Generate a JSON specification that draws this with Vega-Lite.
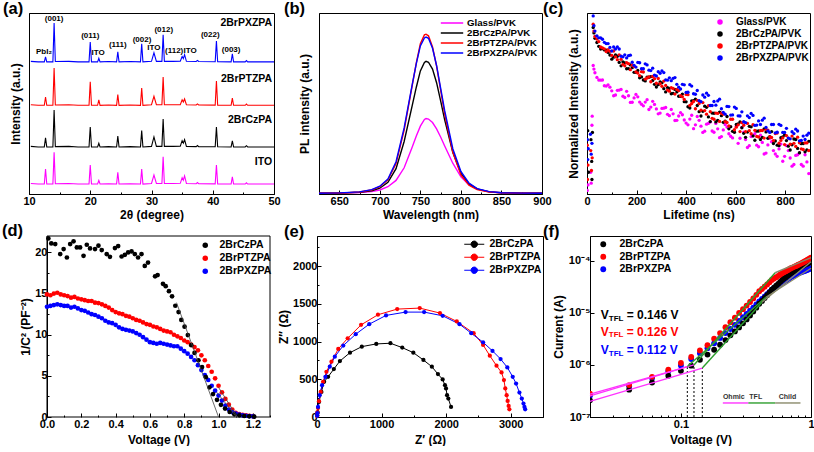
{
"$schema":"https://vega.github.io/schema/vega-lite/v6.json",
"padding":{"left":2,"top":0,"right":0,"bottom":0},
"background":"white",
"config":{
"font":"Liberation Sans",
"view":{"stroke":"black","strokeWidth":1},
"axis":{"grid":false,"domainColor":"black","domainWidth":1,"tickColor":"black","tickWidth":1,"tickSize":-4,"labelPadding":4,"labelColor":"black","labelFont":"Liberation Sans","labelFontWeight":"bold","labelFontSize":11,"titleFont":"Liberation Sans","titleFontWeight":"bold","titleFontSize":12,"titleColor":"black","titlePadding":1,"labelFlush":false,"labelOverlap":false},
"axisX":{"labelPadding":5},
"legend":{"labelFont":"Liberation Sans","labelFontWeight":"bold","labelFontSize":10.5,"labelColor":"black","padding":0,"orient":"none"},
"title":{"font":"Liberation Sans","fontSize":16.5,"fontWeight":"bold","color":"black","anchor":"start","frame":"group","baseline":"alphabetic","offset":-4}
},
"datasets":{
"a":[
{"s":"X","x":10.3,"y":73.3},{"s":"X","x":11.5,"y":73},{"s":"X","x":12.5,"y":73},{"s":"X","x":12.7,"y":75.7},{"s":"X","x":12.9,"y":73},{"s":"X","x":13.9,"y":73},{"s":"X","x":14.1,"y":94.5},{"s":"X","x":14.3,"y":73.2},{"s":"X","x":16.5,"y":73.3},{"s":"X","x":18,"y":73},{"s":"X","x":19.8,"y":73},{"s":"X","x":20,"y":84},{"s":"X","x":20.2,"y":73},{"s":"X","x":21.2,"y":73},{"s":"X","x":21.4,"y":75},{"s":"X","x":21.6,"y":73},{"s":"X","x":23,"y":73.2},{"s":"X","x":24.3,"y":73},{"s":"X","x":24.5,"y":78.5},{"s":"X","x":24.7,"y":73},{"s":"X","x":26.5,"y":73.2},{"s":"X","x":28.2,"y":73},{"s":"X","x":28.4,"y":83},{"s":"X","x":28.6,"y":73},{"s":"X","x":30,"y":73.3},{"s":"X","x":30.4,"y":78},{"s":"X","x":30.8,"y":73.3},{"s":"X","x":31.7,"y":73.3},{"s":"X","x":31.9,"y":88},{"s":"X","x":32.1,"y":73.3},{"s":"X","x":33.5,"y":73.3},{"s":"X","x":34.7,"y":73.4},{"s":"X","x":35,"y":76},{"s":"X","x":35.2,"y":74.8},{"s":"X","x":35.4,"y":77},{"s":"X","x":35.7,"y":73.3},{"s":"X","x":37.3,"y":73.2},{"s":"X","x":37.5,"y":73.8},{"s":"X","x":37.7,"y":73.2},{"s":"X","x":40.4,"y":73.1},{"s":"X","x":40.6,"y":84.5},{"s":"X","x":40.8,"y":73.1},{"s":"X","x":43,"y":73},{"s":"X","x":43.2,"y":77.5},{"s":"X","x":43.4,"y":73},{"s":"X","x":45.3,"y":73},{"s":"X","x":45.5,"y":73.7},{"s":"X","x":45.7,"y":73},{"s":"X","x":50,"y":73},
{"s":"T","x":10.3,"y":49.3},{"s":"T","x":11.5,"y":49},{"s":"T","x":12.5,"y":49},{"s":"T","x":12.7,"y":53.6},{"s":"T","x":12.9,"y":49},{"s":"T","x":13.9,"y":49},{"s":"T","x":14.1,"y":69.6},{"s":"T","x":14.3,"y":49.2},{"s":"T","x":16.5,"y":49.3},{"s":"T","x":18,"y":49},{"s":"T","x":19.8,"y":49},{"s":"T","x":20,"y":62},{"s":"T","x":20.2,"y":49},{"s":"T","x":21.2,"y":49},{"s":"T","x":21.4,"y":52},{"s":"T","x":21.6,"y":49},{"s":"T","x":23,"y":49.2},{"s":"T","x":24.3,"y":49},{"s":"T","x":24.5,"y":55},{"s":"T","x":24.7,"y":49},{"s":"T","x":26.5,"y":49.2},{"s":"T","x":28.2,"y":49},{"s":"T","x":28.4,"y":58.6},{"s":"T","x":28.6,"y":49},{"s":"T","x":30,"y":49.3},{"s":"T","x":30.4,"y":54},{"s":"T","x":30.8,"y":49.3},{"s":"T","x":31.7,"y":49.3},{"s":"T","x":31.9,"y":64.6},{"s":"T","x":32.1,"y":49.3},{"s":"T","x":33.5,"y":49.3},{"s":"T","x":34.7,"y":49.4},{"s":"T","x":35,"y":52},{"s":"T","x":35.2,"y":50.8},{"s":"T","x":35.4,"y":52.5},{"s":"T","x":35.7,"y":49.3},{"s":"T","x":37.3,"y":49.2},{"s":"T","x":37.5,"y":49.8},{"s":"T","x":37.7,"y":49.2},{"s":"T","x":40.4,"y":49.1},{"s":"T","x":40.6,"y":62.4},{"s":"T","x":40.8,"y":49.1},{"s":"T","x":43,"y":49},{"s":"T","x":43.2,"y":53},{"s":"T","x":43.4,"y":49},{"s":"T","x":45.3,"y":49},{"s":"T","x":45.5,"y":49.7},{"s":"T","x":45.7,"y":49},{"s":"T","x":50,"y":49},
{"s":"C","x":10.3,"y":26.3},{"s":"C","x":11.5,"y":26},{"s":"C","x":12.5,"y":26},{"s":"C","x":12.7,"y":31},{"s":"C","x":12.9,"y":26},{"s":"C","x":13.9,"y":26},{"s":"C","x":14.1,"y":46.4},{"s":"C","x":14.3,"y":26.2},{"s":"C","x":16.5,"y":26.3},{"s":"C","x":18,"y":26},{"s":"C","x":19.8,"y":26},{"s":"C","x":20,"y":37},{"s":"C","x":20.2,"y":26},{"s":"C","x":21.2,"y":26},{"s":"C","x":21.4,"y":28},{"s":"C","x":21.6,"y":26},{"s":"C","x":23,"y":26.2},{"s":"C","x":24.3,"y":26},{"s":"C","x":24.5,"y":32},{"s":"C","x":24.7,"y":26},{"s":"C","x":26.5,"y":26.2},{"s":"C","x":28.2,"y":26},{"s":"C","x":28.4,"y":35},{"s":"C","x":28.6,"y":26},{"s":"C","x":30,"y":26.3},{"s":"C","x":30.4,"y":31.5},{"s":"C","x":30.8,"y":26.3},{"s":"C","x":31.7,"y":26.3},{"s":"C","x":31.9,"y":41.4},{"s":"C","x":32.1,"y":26.3},{"s":"C","x":33.5,"y":26.3},{"s":"C","x":34.7,"y":26.4},{"s":"C","x":35,"y":29.5},{"s":"C","x":35.2,"y":28.1},{"s":"C","x":35.4,"y":30},{"s":"C","x":35.7,"y":26.3},{"s":"C","x":37.3,"y":26.2},{"s":"C","x":37.5,"y":26.8},{"s":"C","x":37.7,"y":26.2},{"s":"C","x":40.4,"y":26.1},{"s":"C","x":40.6,"y":37},{"s":"C","x":40.8,"y":26.1},{"s":"C","x":43,"y":26},{"s":"C","x":43.2,"y":29.3},{"s":"C","x":43.4,"y":26},{"s":"C","x":45.3,"y":26},{"s":"C","x":45.5,"y":26.7},{"s":"C","x":45.7,"y":26},{"s":"C","x":50,"y":26},
{"s":"I","x":10.3,"y":5.8},{"s":"I","x":11.5,"y":5.5},{"s":"I","x":12.5,"y":5.5},{"s":"I","x":12.7,"y":13.8},{"s":"I","x":12.9,"y":5.5},{"s":"I","x":13.9,"y":5.5},{"s":"I","x":14.1,"y":23},{"s":"I","x":14.3,"y":5.7},{"s":"I","x":16.5,"y":5.8},{"s":"I","x":18,"y":5.5},{"s":"I","x":19.8,"y":5.5},{"s":"I","x":20,"y":16},{"s":"I","x":20.2,"y":5.5},{"s":"I","x":21.2,"y":5.5},{"s":"I","x":21.4,"y":7.5},{"s":"I","x":21.6,"y":5.5},{"s":"I","x":23,"y":5.7},{"s":"I","x":24.3,"y":5.5},{"s":"I","x":24.5,"y":12},{"s":"I","x":24.7,"y":5.5},{"s":"I","x":26.5,"y":5.7},{"s":"I","x":28.2,"y":5.5},{"s":"I","x":28.4,"y":13.8},{"s":"I","x":28.6,"y":5.5},{"s":"I","x":30,"y":5.8},{"s":"I","x":30.4,"y":10.5},{"s":"I","x":30.8,"y":5.8},{"s":"I","x":31.7,"y":5.8},{"s":"I","x":31.9,"y":20.5},{"s":"I","x":32.1,"y":5.8},{"s":"I","x":33.5,"y":5.8},{"s":"I","x":34.7,"y":5.9},{"s":"I","x":35,"y":9},{"s":"I","x":35.2,"y":7.6},{"s":"I","x":35.4,"y":10},{"s":"I","x":35.7,"y":5.8},{"s":"I","x":37.3,"y":5.7},{"s":"I","x":37.5,"y":6.3},{"s":"I","x":37.7,"y":5.7},{"s":"I","x":40.4,"y":5.6},{"s":"I","x":40.6,"y":16},{"s":"I","x":40.8,"y":5.6},{"s":"I","x":43,"y":5.5},{"s":"I","x":43.2,"y":9.5},{"s":"I","x":43.4,"y":5.5},{"s":"I","x":45.3,"y":5.5},{"s":"I","x":45.5,"y":6.2},{"s":"I","x":45.7,"y":5.5},{"s":"I","x":50,"y":5.5}
],
"aPk":[
{"t":"PbI₂","x":12.45,"y":78.5},{"t":"(001)","x":14.1,"y":96.7},{"t":"(011)","x":20.0,"y":87.3},{"t":"ITO","x":21.3,"y":78},{"t":"(111)","x":24.5,"y":82.3},{"t":"(002)","x":28.45,"y":85},{"t":"ITO","x":30.4,"y":80.7},{"t":"(012)","x":32.0,"y":90.6},{"t":"(112)","x":33.7,"y":79},{"t":"ITO","x":36.3,"y":79},{"t":"(022)","x":39.6,"y":87.8},{"t":"(003)","x":43.0,"y":79.5}
],
"aSer":[
{"t":"2BrPXZPA","x":49.7,"y":94.5},{"t":"2BrPTZPA","x":49.7,"y":63.5},{"t":"2BrCzPA","x":49.7,"y":41},{"t":"ITO","x":49.7,"y":17.8}
],
"b":[
{"s":"G","x":625,"y":0.004},{"s":"G","x":650,"y":0.005},{"s":"G","x":675,"y":0.008},{"s":"G","x":690,"y":0.013},{"s":"G","x":700,"y":0.022},{"s":"G","x":710,"y":0.04},{"s":"G","x":720,"y":0.075},{"s":"G","x":730,"y":0.145},{"s":"G","x":740,"y":0.26},{"s":"G","x":745,"y":0.32},{"s":"G","x":750,"y":0.375},{"s":"G","x":755,"y":0.412},{"s":"G","x":757,"y":0.417},{"s":"G","x":760,"y":0.414},{"s":"G","x":765,"y":0.395},{"s":"G","x":770,"y":0.36},{"s":"G","x":775,"y":0.315},{"s":"G","x":780,"y":0.265},{"s":"G","x":790,"y":0.17},{"s":"G","x":800,"y":0.095},{"s":"G","x":810,"y":0.05},{"s":"G","x":820,"y":0.027},{"s":"G","x":835,"y":0.012},{"s":"G","x":850,"y":0.007},{"s":"G","x":875,"y":0.005},{"s":"G","x":900,"y":0.004},
{"s":"C","x":625,"y":0.004},{"s":"C","x":650,"y":0.005},{"s":"C","x":675,"y":0.01},{"s":"C","x":690,"y":0.018},{"s":"C","x":700,"y":0.032},{"s":"C","x":710,"y":0.065},{"s":"C","x":720,"y":0.14},{"s":"C","x":730,"y":0.29},{"s":"C","x":740,"y":0.49},{"s":"C","x":745,"y":0.59},{"s":"C","x":750,"y":0.68},{"s":"C","x":755,"y":0.727},{"s":"C","x":757,"y":0.733},{"s":"C","x":760,"y":0.728},{"s":"C","x":765,"y":0.69},{"s":"C","x":770,"y":0.615},{"s":"C","x":775,"y":0.515},{"s":"C","x":780,"y":0.41},{"s":"C","x":790,"y":0.23},{"s":"C","x":800,"y":0.115},{"s":"C","x":810,"y":0.056},{"s":"C","x":820,"y":0.028},{"s":"C","x":835,"y":0.012},{"s":"C","x":850,"y":0.007},{"s":"C","x":875,"y":0.005},{"s":"C","x":900,"y":0.004},
{"s":"T","x":625,"y":0.004},{"s":"T","x":650,"y":0.005},{"s":"T","x":675,"y":0.011},{"s":"T","x":690,"y":0.022},{"s":"T","x":700,"y":0.04},{"s":"T","x":710,"y":0.079},{"s":"T","x":720,"y":0.168},{"s":"T","x":730,"y":0.353},{"s":"T","x":740,"y":0.6},{"s":"T","x":745,"y":0.724},{"s":"T","x":750,"y":0.83},{"s":"T","x":755,"y":0.879},{"s":"T","x":757,"y":0.883},{"s":"T","x":760,"y":0.874},{"s":"T","x":765,"y":0.812},{"s":"T","x":770,"y":0.706},{"s":"T","x":775,"y":0.574},{"s":"T","x":780,"y":0.442},{"s":"T","x":790,"y":0.23},{"s":"T","x":800,"y":0.106},{"s":"T","x":810,"y":0.049},{"s":"T","x":820,"y":0.024},{"s":"T","x":835,"y":0.011},{"s":"T","x":850,"y":0.006},{"s":"T","x":875,"y":0.004},{"s":"T","x":900,"y":0.004},
{"s":"X","x":625,"y":0.004},{"s":"X","x":650,"y":0.006},{"s":"X","x":675,"y":0.012},{"s":"X","x":690,"y":0.024},{"s":"X","x":700,"y":0.043},{"s":"X","x":710,"y":0.083},{"s":"X","x":720,"y":0.178},{"s":"X","x":730,"y":0.365},{"s":"X","x":740,"y":0.605},{"s":"X","x":745,"y":0.72},{"s":"X","x":750,"y":0.818},{"s":"X","x":755,"y":0.862},{"s":"X","x":757,"y":0.867},{"s":"X","x":760,"y":0.86},{"s":"X","x":765,"y":0.805},{"s":"X","x":770,"y":0.71},{"s":"X","x":775,"y":0.585},{"s":"X","x":780,"y":0.46},{"s":"X","x":790,"y":0.25},{"s":"X","x":800,"y":0.125},{"s":"X","x":810,"y":0.06},{"s":"X","x":820,"y":0.03},{"s":"X","x":835,"y":0.013},{"s":"X","x":850,"y":0.007},{"s":"X","x":875,"y":0.005},{"s":"X","x":900,"y":0.004}
],
"c":[
{"s":"G","x":4,"y":0.05},{"s":"G","x":17,"y":0.06},{"s":"G","x":20,"y":0.38},{"s":"G","x":1,"y":0.02},{"s":"G","x":21,"y":0.43},{"s":"G","x":15,"y":0.12},
{"s":"G","x":25,"y":0.71},{"s":"G","x":28,"y":0.69},{"s":"G","x":32,"y":0.67},{"s":"G","x":40,"y":0.644},{"s":"G","x":55,"y":0.629},{"s":"G","x":70,"y":0.598},{"s":"G","x":85,"y":0.603},{"s":"G","x":100,"y":0.57},{"s":"G","x":115,"y":0.547},{"s":"G","x":130,"y":0.574},{"s":"G","x":145,"y":0.54},{"s":"G","x":160,"y":0.567},{"s":"G","x":175,"y":0.506},{"s":"G","x":190,"y":0.531},{"s":"G","x":205,"y":0.537},{"s":"G","x":220,"y":0.496},{"s":"G","x":235,"y":0.508},{"s":"G","x":250,"y":0.467},{"s":"G","x":265,"y":0.512},{"s":"G","x":280,"y":0.47},{"s":"G","x":295,"y":0.447},{"s":"G","x":310,"y":0.474},{"s":"G","x":325,"y":0.44},{"s":"G","x":340,"y":0.467},{"s":"G","x":355,"y":0.406},{"s":"G","x":370,"y":0.431},{"s":"G","x":385,"y":0.438},{"s":"G","x":400,"y":0.392},{"s":"G","x":415,"y":0.414},{"s":"G","x":430,"y":0.361},{"s":"G","x":445,"y":0.428},{"s":"G","x":460,"y":0.375},{"s":"G","x":475,"y":0.347},{"s":"G","x":490,"y":0.39},{"s":"G","x":505,"y":0.348},{"s":"G","x":520,"y":0.39},{"s":"G","x":535,"y":0.311},{"s":"G","x":550,"y":0.354},{"s":"G","x":565,"y":0.37},{"s":"G","x":580,"y":0.319},{"s":"G","x":595,"y":0.343},{"s":"G","x":610,"y":0.28},{"s":"G","x":625,"y":0.368},{"s":"G","x":640,"y":0.301},{"s":"G","x":655,"y":0.267},{"s":"G","x":670,"y":0.322},{"s":"G","x":685,"y":0.27},{"s":"G","x":700,"y":0.325},{"s":"G","x":715,"y":0.221},{"s":"G","x":730,"y":0.271},{"s":"G","x":745,"y":0.289},{"s":"G","x":760,"y":0.221},{"s":"G","x":775,"y":0.249},{"s":"G","x":790,"y":0.181},{"s":"G","x":805,"y":0.267},{"s":"G","x":820,"y":0.199},{"s":"G","x":835,"y":0.163},{"s":"G","x":850,"y":0.217},{"s":"G","x":865,"y":0.163},{"s":"G","x":880,"y":0.217},{"s":"G","x":895,"y":0.113},
{"s":"G","x":47.5,"y":0.63},{"s":"G","x":62.5,"y":0.63},{"s":"G","x":77.5,"y":0.596},{"s":"G","x":92.5,"y":0.59},{"s":"G","x":107.5,"y":0.543},{"s":"G","x":122.5,"y":0.573},{"s":"G","x":137.5,"y":0.578},{"s":"G","x":152.5,"y":0.533},{"s":"G","x":167.5,"y":0.543},{"s":"G","x":182.5,"y":0.507},{"s":"G","x":197.5,"y":0.55},{"s":"G","x":212.5,"y":0.508},{"s":"G","x":227.5,"y":0.487},{"s":"G","x":242.5,"y":0.521},{"s":"G","x":257.5,"y":0.48},{"s":"G","x":272.5,"y":0.495},{"s":"G","x":287.5,"y":0.443},{"s":"G","x":302.5,"y":0.473},{"s":"G","x":317.5,"y":0.478},{"s":"G","x":332.5,"y":0.433},{"s":"G","x":347.5,"y":0.443},{"s":"G","x":362.5,"y":0.407},{"s":"G","x":377.5,"y":0.45},{"s":"G","x":392.5,"y":0.409},{"s":"G","x":407.5,"y":0.382},{"s":"G","x":422.5,"y":0.435},{"s":"G","x":437.5,"y":0.382},{"s":"G","x":452.5,"y":0.407},{"s":"G","x":467.5,"y":0.34},{"s":"G","x":482.5,"y":0.386},{"s":"G","x":497.5,"y":0.398},{"s":"G","x":512.5,"y":0.341},{"s":"G","x":527.5,"y":0.36},{"s":"G","x":542.5,"y":0.317},{"s":"G","x":557.5,"y":0.384},{"s":"G","x":572.5,"y":0.333},{"s":"G","x":587.5,"y":0.31},{"s":"G","x":602.5,"y":0.374},{"s":"G","x":617.5,"y":0.308},{"s":"G","x":632.5,"y":0.341},{"s":"G","x":647.5,"y":0.257},{"s":"G","x":662.5,"y":0.317},{"s":"G","x":677.5,"y":0.333},{"s":"G","x":692.5,"y":0.261},{"s":"G","x":707.5,"y":0.285},{"s":"G","x":722.5,"y":0.226},{"s":"G","x":737.5,"y":0.308},{"s":"G","x":752.5,"y":0.24},{"s":"G","x":767.5,"y":0.208},{"s":"G","x":782.5,"y":0.276},{"s":"G","x":797.5,"y":0.208},{"s":"G","x":812.5,"y":0.24},{"s":"G","x":827.5,"y":0.154},{"s":"G","x":842.5,"y":0.213},{"s":"G","x":857.5,"y":0.227},{"s":"G","x":872.5,"y":0.154},{"s":"G","x":887.5,"y":0.177},
{"s":"C","x":3,"y":0.35},{"s":"C","x":16,"y":0.3},{"s":"C","x":19,"y":0.18},{"s":"C","x":6,"y":0.12},{"s":"C","x":20,"y":0.08},{"s":"C","x":22,"y":0.34},
{"s":"C","x":25,"y":0.92},{"s":"C","x":28,"y":0.89},{"s":"C","x":32,"y":0.86},{"s":"C","x":40,"y":0.837},{"s":"C","x":55,"y":0.801},{"s":"C","x":70,"y":0.796},{"s":"C","x":85,"y":0.782},{"s":"C","x":100,"y":0.745},{"s":"C","x":115,"y":0.768},{"s":"C","x":130,"y":0.727},{"s":"C","x":145,"y":0.73},{"s":"C","x":160,"y":0.692},{"s":"C","x":175,"y":0.713},{"s":"C","x":190,"y":0.672},{"s":"C","x":205,"y":0.683},{"s":"C","x":220,"y":0.647},{"s":"C","x":235,"y":0.625},{"s":"C","x":250,"y":0.645},{"s":"C","x":265,"y":0.627},{"s":"C","x":280,"y":0.591},{"s":"C","x":295,"y":0.619},{"s":"C","x":310,"y":0.582},{"s":"C","x":325,"y":0.588},{"s":"C","x":340,"y":0.554},{"s":"C","x":355,"y":0.578},{"s":"C","x":370,"y":0.54},{"s":"C","x":385,"y":0.552},{"s":"C","x":400,"y":0.509},{"s":"C","x":415,"y":0.475},{"s":"C","x":430,"y":0.516},{"s":"C","x":445,"y":0.489},{"s":"C","x":460,"y":0.431},{"s":"C","x":475,"y":0.485},{"s":"C","x":490,"y":0.426},{"s":"C","x":505,"y":0.447},{"s":"C","x":520,"y":0.398},{"s":"C","x":535,"y":0.452},{"s":"C","x":550,"y":0.396},{"s":"C","x":565,"y":0.428},{"s":"C","x":580,"y":0.372},{"s":"C","x":595,"y":0.341},{"s":"C","x":610,"y":0.387},{"s":"C","x":625,"y":0.366},{"s":"C","x":640,"y":0.313},{"s":"C","x":655,"y":0.374},{"s":"C","x":670,"y":0.321},{"s":"C","x":685,"y":0.347},{"s":"C","x":700,"y":0.301},{"s":"C","x":715,"y":0.36},{"s":"C","x":730,"y":0.308},{"s":"C","x":745,"y":0.345},{"s":"C","x":760,"y":0.293},{"s":"C","x":775,"y":0.267},{"s":"C","x":790,"y":0.315},{"s":"C","x":805,"y":0.295},{"s":"C","x":820,"y":0.243},{"s":"C","x":835,"y":0.304},{"s":"C","x":850,"y":0.252},{"s":"C","x":865,"y":0.278},{"s":"C","x":880,"y":0.233},{"s":"C","x":895,"y":0.291},
{"s":"C","x":47.5,"y":0.816},{"s":"C","x":62.5,"y":0.804},{"s":"C","x":77.5,"y":0.795},{"s":"C","x":92.5,"y":0.768},{"s":"C","x":107.5,"y":0.756},{"s":"C","x":122.5,"y":0.761},{"s":"C","x":137.5,"y":0.708},{"s":"C","x":152.5,"y":0.724},{"s":"C","x":167.5,"y":0.693},{"s":"C","x":182.5,"y":0.698},{"s":"C","x":197.5,"y":0.672},{"s":"C","x":212.5,"y":0.642},{"s":"C","x":227.5,"y":0.63},{"s":"C","x":242.5,"y":0.646},{"s":"C","x":257.5,"y":0.648},{"s":"C","x":272.5,"y":0.606},{"s":"C","x":287.5,"y":0.604},{"s":"C","x":302.5,"y":0.614},{"s":"C","x":317.5,"y":0.564},{"s":"C","x":332.5,"y":0.584},{"s":"C","x":347.5,"y":0.556},{"s":"C","x":362.5,"y":0.564},{"s":"C","x":377.5,"y":0.54},{"s":"C","x":392.5,"y":0.51},{"s":"C","x":407.5,"y":0.482},{"s":"C","x":422.5,"y":0.515},{"s":"C","x":437.5,"y":0.524},{"s":"C","x":452.5,"y":0.455},{"s":"C","x":467.5,"y":0.457},{"s":"C","x":482.5,"y":0.479},{"s":"C","x":497.5,"y":0.4},{"s":"C","x":512.5,"y":0.446},{"s":"C","x":527.5,"y":0.407},{"s":"C","x":542.5,"y":0.433},{"s":"C","x":557.5,"y":0.402},{"s":"C","x":572.5,"y":0.36},{"s":"C","x":587.5,"y":0.346},{"s":"C","x":602.5,"y":0.384},{"s":"C","x":617.5,"y":0.398},{"s":"C","x":632.5,"y":0.335},{"s":"C","x":647.5,"y":0.342},{"s":"C","x":662.5,"y":0.371},{"s":"C","x":677.5,"y":0.297},{"s":"C","x":692.5,"y":0.348},{"s":"C","x":707.5,"y":0.313},{"s":"C","x":722.5,"y":0.343},{"s":"C","x":737.5,"y":0.317},{"s":"C","x":752.5,"y":0.279},{"s":"C","x":767.5,"y":0.27},{"s":"C","x":782.5,"y":0.311},{"s":"C","x":797.5,"y":0.326},{"s":"C","x":812.5,"y":0.264},{"s":"C","x":827.5,"y":0.272},{"s":"C","x":842.5,"y":0.301},{"s":"C","x":857.5,"y":0.228},{"s":"C","x":872.5,"y":0.279},{"s":"C","x":887.5,"y":0.244},
{"s":"T","x":1,"y":0.27},{"s":"T","x":4,"y":0.16},{"s":"T","x":15,"y":0.24},{"s":"T","x":18,"y":0.13},{"s":"T","x":21,"y":0.2},{"s":"T","x":2,"y":0.08},
{"s":"T","x":25,"y":0.938},{"s":"T","x":28,"y":0.9},{"s":"T","x":32,"y":0.87},{"s":"T","x":40,"y":0.856},{"s":"T","x":55,"y":0.812},{"s":"T","x":70,"y":0.802},{"s":"T","x":85,"y":0.797},{"s":"T","x":100,"y":0.766},{"s":"T","x":115,"y":0.758},{"s":"T","x":130,"y":0.769},{"s":"T","x":145,"y":0.716},{"s":"T","x":160,"y":0.725},{"s":"T","x":175,"y":0.687},{"s":"T","x":190,"y":0.704},{"s":"T","x":205,"y":0.668},{"s":"T","x":220,"y":0.676},{"s":"T","x":235,"y":0.635},{"s":"T","x":250,"y":0.647},{"s":"T","x":265,"y":0.649},{"s":"T","x":280,"y":0.612},{"s":"T","x":295,"y":0.609},{"s":"T","x":310,"y":0.624},{"s":"T","x":325,"y":0.574},{"s":"T","x":340,"y":0.587},{"s":"T","x":355,"y":0.552},{"s":"T","x":370,"y":0.572},{"s":"T","x":385,"y":0.537},{"s":"T","x":400,"y":0.55},{"s":"T","x":415,"y":0.489},{"s":"T","x":430,"y":0.511},{"s":"T","x":445,"y":0.517},{"s":"T","x":460,"y":0.463},{"s":"T","x":475,"y":0.461},{"s":"T","x":490,"y":0.488},{"s":"T","x":505,"y":0.418},{"s":"T","x":520,"y":0.447},{"s":"T","x":535,"y":0.401},{"s":"T","x":550,"y":0.441},{"s":"T","x":565,"y":0.395},{"s":"T","x":580,"y":0.413},{"s":"T","x":595,"y":0.355},{"s":"T","x":610,"y":0.382},{"s":"T","x":625,"y":0.394},{"s":"T","x":640,"y":0.345},{"s":"T","x":655,"y":0.35},{"s":"T","x":670,"y":0.383},{"s":"T","x":685,"y":0.318},{"s":"T","x":700,"y":0.35},{"s":"T","x":715,"y":0.309},{"s":"T","x":730,"y":0.353},{"s":"T","x":745,"y":0.312},{"s":"T","x":760,"y":0.334},{"s":"T","x":775,"y":0.281},{"s":"T","x":790,"y":0.31},{"s":"T","x":805,"y":0.323},{"s":"T","x":820,"y":0.275},{"s":"T","x":835,"y":0.28},{"s":"T","x":850,"y":0.314},{"s":"T","x":865,"y":0.249},{"s":"T","x":880,"y":0.282},{"s":"T","x":895,"y":0.24},
{"s":"T","x":47.5,"y":0.842},{"s":"T","x":62.5,"y":0.807},{"s":"T","x":77.5,"y":0.787},{"s":"T","x":92.5,"y":0.788},{"s":"T","x":107.5,"y":0.79},{"s":"T","x":122.5,"y":0.742},{"s":"T","x":137.5,"y":0.744},{"s":"T","x":152.5,"y":0.708},{"s":"T","x":167.5,"y":0.72},{"s":"T","x":182.5,"y":0.712},{"s":"T","x":197.5,"y":0.675},{"s":"T","x":212.5,"y":0.654},{"s":"T","x":227.5,"y":0.674},{"s":"T","x":242.5,"y":0.641},{"s":"T","x":257.5,"y":0.62},{"s":"T","x":272.5,"y":0.637},{"s":"T","x":287.5,"y":0.638},{"s":"T","x":302.5,"y":0.595},{"s":"T","x":317.5,"y":0.6},{"s":"T","x":332.5,"y":0.568},{"s":"T","x":347.5,"y":0.583},{"s":"T","x":362.5,"y":0.578},{"s":"T","x":377.5,"y":0.543},{"s":"T","x":392.5,"y":0.522},{"s":"T","x":407.5,"y":0.549},{"s":"T","x":422.5,"y":0.5},{"s":"T","x":437.5,"y":0.471},{"s":"T","x":452.5,"y":0.5},{"s":"T","x":467.5,"y":0.505},{"s":"T","x":482.5,"y":0.441},{"s":"T","x":497.5,"y":0.455},{"s":"T","x":512.5,"y":0.413},{"s":"T","x":527.5,"y":0.445},{"s":"T","x":542.5,"y":0.446},{"s":"T","x":557.5,"y":0.4},{"s":"T","x":572.5,"y":0.376},{"s":"T","x":587.5,"y":0.413},{"s":"T","x":602.5,"y":0.369},{"s":"T","x":617.5,"y":0.345},{"s":"T","x":632.5,"y":0.38},{"s":"T","x":647.5,"y":0.39},{"s":"T","x":662.5,"y":0.333},{"s":"T","x":677.5,"y":0.352},{"s":"T","x":692.5,"y":0.315},{"s":"T","x":707.5,"y":0.351},{"s":"T","x":722.5,"y":0.356},{"s":"T","x":737.5,"y":0.315},{"s":"T","x":752.5,"y":0.295},{"s":"T","x":767.5,"y":0.337},{"s":"T","x":782.5,"y":0.296},{"s":"T","x":797.5,"y":0.273},{"s":"T","x":812.5,"y":0.309},{"s":"T","x":827.5,"y":0.32},{"s":"T","x":842.5,"y":0.263},{"s":"T","x":857.5,"y":0.283},{"s":"T","x":872.5,"y":0.246},{"s":"T","x":887.5,"y":0.282},
{"s":"X","x":2,"y":0.3},{"s":"X","x":5,"y":0.25},{"s":"X","x":14,"y":0.33},{"s":"X","x":17,"y":0.22},{"s":"X","x":20,"y":0.28},{"s":"X","x":3,"y":0.19},
{"s":"X","x":25,"y":0.984},{"s":"X","x":28,"y":0.93},{"s":"X","x":32,"y":0.9},{"s":"X","x":40,"y":0.874},{"s":"X","x":55,"y":0.863},{"s":"X","x":70,"y":0.838},{"s":"X","x":85,"y":0.831},{"s":"X","x":100,"y":0.79},{"s":"X","x":115,"y":0.801},{"s":"X","x":130,"y":0.801},{"s":"X","x":145,"y":0.758},{"s":"X","x":160,"y":0.752},{"s":"X","x":175,"y":0.767},{"s":"X","x":190,"y":0.711},{"s":"X","x":205,"y":0.727},{"s":"X","x":220,"y":0.692},{"s":"X","x":235,"y":0.719},{"s":"X","x":250,"y":0.684},{"s":"X","x":265,"y":0.695},{"s":"X","x":280,"y":0.652},{"s":"X","x":295,"y":0.667},{"s":"X","x":310,"y":0.671},{"s":"X","x":325,"y":0.629},{"s":"X","x":340,"y":0.626},{"s":"X","x":355,"y":0.643},{"s":"X","x":370,"y":0.59},{"s":"X","x":385,"y":0.606},{"s":"X","x":400,"y":0.561},{"s":"X","x":415,"y":0.604},{"s":"X","x":430,"y":0.554},{"s":"X","x":445,"y":0.572},{"s":"X","x":460,"y":0.51},{"s":"X","x":475,"y":0.535},{"s":"X","x":490,"y":0.545},{"s":"X","x":505,"y":0.489},{"s":"X","x":520,"y":0.491},{"s":"X","x":535,"y":0.524},{"s":"X","x":550,"y":0.451},{"s":"X","x":565,"y":0.484},{"s":"X","x":580,"y":0.436},{"s":"X","x":595,"y":0.48},{"s":"X","x":610,"y":0.432},{"s":"X","x":625,"y":0.454},{"s":"X","x":640,"y":0.394},{"s":"X","x":655,"y":0.422},{"s":"X","x":670,"y":0.434},{"s":"X","x":685,"y":0.381},{"s":"X","x":700,"y":0.384},{"s":"X","x":715,"y":0.419},{"s":"X","x":730,"y":0.349},{"s":"X","x":745,"y":0.384},{"s":"X","x":760,"y":0.338},{"s":"X","x":775,"y":0.385},{"s":"X","x":790,"y":0.34},{"s":"X","x":805,"y":0.363},{"s":"X","x":820,"y":0.305},{"s":"X","x":835,"y":0.334},{"s":"X","x":850,"y":0.348},{"s":"X","x":865,"y":0.296},{"s":"X","x":880,"y":0.301},{"s":"X","x":895,"y":0.336},
{"s":"X","x":47.5,"y":0.863},{"s":"X","x":62.5,"y":0.855},{"s":"X","x":77.5,"y":0.831},{"s":"X","x":92.5,"y":0.81},{"s":"X","x":107.5,"y":0.812},{"s":"X","x":122.5,"y":0.812},{"s":"X","x":137.5,"y":0.761},{"s":"X","x":152.5,"y":0.769},{"s":"X","x":167.5,"y":0.764},{"s":"X","x":182.5,"y":0.728},{"s":"X","x":197.5,"y":0.701},{"s":"X","x":212.5,"y":0.725},{"s":"X","x":227.5,"y":0.692},{"s":"X","x":242.5,"y":0.713},{"s":"X","x":257.5,"y":0.682},{"s":"X","x":272.5,"y":0.657},{"s":"X","x":287.5,"y":0.676},{"s":"X","x":302.5,"y":0.68},{"s":"X","x":317.5,"y":0.631},{"s":"X","x":332.5,"y":0.642},{"s":"X","x":347.5,"y":0.639},{"s":"X","x":362.5,"y":0.606},{"s":"X","x":377.5,"y":0.58},{"s":"X","x":392.5,"y":0.603},{"s":"X","x":407.5,"y":0.562},{"s":"X","x":422.5,"y":0.596},{"s":"X","x":437.5,"y":0.551},{"s":"X","x":452.5,"y":0.516},{"s":"X","x":467.5,"y":0.547},{"s":"X","x":482.5,"y":0.557},{"s":"X","x":497.5,"y":0.489},{"s":"X","x":512.5,"y":0.511},{"s":"X","x":527.5,"y":0.514},{"s":"X","x":542.5,"y":0.471},{"s":"X","x":557.5,"y":0.441},{"s":"X","x":572.5,"y":0.483},{"s":"X","x":587.5,"y":0.437},{"s":"X","x":602.5,"y":0.473},{"s":"X","x":617.5,"y":0.431},{"s":"X","x":632.5,"y":0.399},{"s":"X","x":647.5,"y":0.432},{"s":"X","x":662.5,"y":0.445},{"s":"X","x":677.5,"y":0.379},{"s":"X","x":692.5,"y":0.404},{"s":"X","x":707.5,"y":0.408},{"s":"X","x":722.5,"y":0.368},{"s":"X","x":737.5,"y":0.34},{"s":"X","x":752.5,"y":0.384},{"s":"X","x":767.5,"y":0.341},{"s":"X","x":782.5,"y":0.379},{"s":"X","x":797.5,"y":0.34},{"s":"X","x":812.5,"y":0.309},{"s":"X","x":827.5,"y":0.344},{"s":"X","x":842.5,"y":0.358},{"s":"X","x":857.5,"y":0.294},{"s":"X","x":872.5,"y":0.32},{"s":"X","x":887.5,"y":0.325}
],
"d":[
{"s":"T","x":0,"y":14.9},{"s":"T","x":0.02,"y":14.8},{"s":"T","x":0.04,"y":15},{"s":"T","x":0.06,"y":15.1},{"s":"T","x":0.08,"y":14.9},{"s":"T","x":0.1,"y":14.8},{"s":"T","x":0.12,"y":14.7},{"s":"T","x":0.14,"y":14.5},{"s":"T","x":0.16,"y":14.6},{"s":"T","x":0.18,"y":14.4},{"s":"T","x":0.2,"y":14.3},{"s":"T","x":0.22,"y":14.2},{"s":"T","x":0.24,"y":14.1},{"s":"T","x":0.26,"y":14.1},{"s":"T","x":0.28,"y":13.9},{"s":"T","x":0.3,"y":13.85},{"s":"T","x":0.32,"y":13.7},{"s":"T","x":0.34,"y":13.5},{"s":"T","x":0.36,"y":13.3},{"s":"T","x":0.38,"y":13},{"s":"T","x":0.4,"y":12.75},{"s":"T","x":0.42,"y":12.6},{"s":"T","x":0.44,"y":12.5},{"s":"T","x":0.46,"y":12.3},{"s":"T","x":0.48,"y":12.2},{"s":"T","x":0.5,"y":12},{"s":"T","x":0.52,"y":11.8},{"s":"T","x":0.54,"y":11.7},{"s":"T","x":0.56,"y":11.5},{"s":"T","x":0.58,"y":11.3},{"s":"T","x":0.6,"y":11.2},{"s":"T","x":0.62,"y":11},{"s":"T","x":0.64,"y":10.9},{"s":"T","x":0.66,"y":10.7},{"s":"T","x":0.68,"y":10.5},{"s":"T","x":0.7,"y":10.4},{"s":"T","x":0.72,"y":10.3},{"s":"T","x":0.74,"y":10},{"s":"T","x":0.76,"y":9.8},{"s":"T","x":0.78,"y":9.6},{"s":"T","x":0.8,"y":9.3},{"s":"T","x":0.82,"y":9.1},{"s":"T","x":0.84,"y":8.8},{"s":"T","x":0.86,"y":8.5},{"s":"T","x":0.88,"y":8.1},{"s":"T","x":0.9,"y":7.5},{"s":"T","x":0.92,"y":6.9},{"s":"T","x":0.94,"y":6.2},{"s":"T","x":0.96,"y":5.5},{"s":"T","x":0.98,"y":4.7},{"s":"T","x":1,"y":3.8},{"s":"T","x":1.02,"y":3},{"s":"T","x":1.04,"y":2.2},{"s":"T","x":1.06,"y":1.5},{"s":"T","x":1.08,"y":0.9},{"s":"T","x":1.1,"y":0.5},{"s":"T","x":1.12,"y":0.35},{"s":"T","x":1.14,"y":0.25},{"s":"T","x":1.16,"y":0.2},{"s":"T","x":1.18,"y":0.15},{"s":"T","x":1.2,"y":0.1},
{"s":"X","x":0,"y":13.4},{"s":"X","x":0.02,"y":13.5},{"s":"X","x":0.04,"y":13.6},{"s":"X","x":0.06,"y":13.7},{"s":"X","x":0.08,"y":13.6},{"s":"X","x":0.1,"y":13.5},{"s":"X","x":0.12,"y":13.5},{"s":"X","x":0.14,"y":13.3},{"s":"X","x":0.16,"y":13.4},{"s":"X","x":0.18,"y":13.2},{"s":"X","x":0.2,"y":13},{"s":"X","x":0.22,"y":12.9},{"s":"X","x":0.24,"y":12.7},{"s":"X","x":0.26,"y":12.5},{"s":"X","x":0.28,"y":12.4},{"s":"X","x":0.3,"y":12.2},{"s":"X","x":0.32,"y":12},{"s":"X","x":0.34,"y":11.7},{"s":"X","x":0.36,"y":11.5},{"s":"X","x":0.38,"y":11.4},{"s":"X","x":0.4,"y":11.2},{"s":"X","x":0.42,"y":10.9},{"s":"X","x":0.44,"y":10.7},{"s":"X","x":0.46,"y":10.6},{"s":"X","x":0.48,"y":10.5},{"s":"X","x":0.5,"y":10.4},{"s":"X","x":0.52,"y":10.2},{"s":"X","x":0.54,"y":10},{"s":"X","x":0.56,"y":9.7},{"s":"X","x":0.58,"y":9.4},{"s":"X","x":0.6,"y":9.1},{"s":"X","x":0.62,"y":9},{"s":"X","x":0.64,"y":8.9},{"s":"X","x":0.66,"y":9},{"s":"X","x":0.68,"y":8.9},{"s":"X","x":0.7,"y":8.8},{"s":"X","x":0.72,"y":8.7},{"s":"X","x":0.74,"y":8.6},{"s":"X","x":0.76,"y":8.6},{"s":"X","x":0.78,"y":8.3},{"s":"X","x":0.8,"y":8},{"s":"X","x":0.82,"y":7.7},{"s":"X","x":0.84,"y":7.3},{"s":"X","x":0.86,"y":6.9},{"s":"X","x":0.88,"y":6.3},{"s":"X","x":0.9,"y":5.7},{"s":"X","x":0.92,"y":5.1},{"s":"X","x":0.94,"y":4.5},{"s":"X","x":0.96,"y":3.8},{"s":"X","x":0.98,"y":3.2},{"s":"X","x":1,"y":2.6},{"s":"X","x":1.02,"y":2},{"s":"X","x":1.04,"y":1.4},{"s":"X","x":1.06,"y":0.9},{"s":"X","x":1.08,"y":0.6},{"s":"X","x":1.1,"y":0.4},{"s":"X","x":1.12,"y":0.3},{"s":"X","x":1.14,"y":0.2},{"s":"X","x":1.16,"y":0.15},{"s":"X","x":1.18,"y":0.1},{"s":"X","x":1.2,"y":0.08},
{"s":"C","x":0.008,"y":21.7},{"s":"C","x":0.025,"y":21.1},{"s":"C","x":0.048,"y":21.02},{"s":"C","x":0.077,"y":19.8},{"s":"C","x":0.097,"y":20.41},{"s":"C","x":0.116,"y":19.39},{"s":"C","x":0.135,"y":21.02},{"s":"C","x":0.155,"y":21.35},{"s":"C","x":0.174,"y":20.61},{"s":"C","x":0.193,"y":20.61},{"s":"C","x":0.213,"y":19.59},{"s":"C","x":0.232,"y":20.94},{"s":"C","x":0.251,"y":20.49},{"s":"C","x":0.28,"y":20.41},{"s":"C","x":0.3,"y":20.82},{"s":"C","x":0.319,"y":20.29},{"s":"C","x":0.348,"y":19.8},{"s":"C","x":0.367,"y":19.47},{"s":"C","x":0.396,"y":20.53},{"s":"C","x":0.415,"y":20.78},{"s":"C","x":0.435,"y":19.51},{"s":"C","x":0.454,"y":19.71},{"s":"C","x":0.473,"y":20},{"s":"C","x":0.493,"y":20.12},{"s":"C","x":0.512,"y":19.8},{"s":"C","x":0.531,"y":19.39},{"s":"C","x":0.551,"y":19.8},{"s":"C","x":0.57,"y":18.36},{"s":"C","x":0.589,"y":18.77},{"s":"C","x":0.63,"y":17.1},{"s":"C","x":0.645,"y":17.25},{"s":"C","x":0.676,"y":16.19},{"s":"C","x":0.692,"y":15.9},{"s":"C","x":0.711,"y":15.29},{"s":"C","x":0.729,"y":14.67},{"s":"C","x":0.748,"y":13.52},{"s":"C","x":0.767,"y":12.75},{"s":"C","x":0.783,"y":11.8},{"s":"C","x":0.802,"y":10.98},{"s":"C","x":0.821,"y":9.96},{"s":"C","x":0.841,"y":8.73},{"s":"C","x":0.86,"y":7.79},{"s":"C","x":0.883,"y":6.89},{"s":"C","x":0.904,"y":6.07},{"s":"C","x":0.926,"y":4.84},{"s":"C","x":0.947,"y":3.61},{"s":"C","x":0.968,"y":2.79},{"s":"C","x":0.991,"y":2.09},{"s":"C","x":1.014,"y":1.48},{"s":"C","x":1.038,"y":1.02},{"s":"C","x":1.065,"y":0.61},{"s":"C","x":1.092,"y":0.33},{"s":"C","x":1.121,"y":0.2},{"s":"C","x":1.15,"y":0.12},{"s":"C","x":1.179,"y":0.08},{"s":"C","x":1.208,"y":0.04}
],
"dFit":[
{"g":"c","x":0.755,"y":13.9},{"g":"c","x":1.0,"y":0},
{"g":"t","x":1.0,"y":3.6},{"g":"t","x":1.11,"y":0},
{"g":"p","x":0.99,"y":3.0},{"g":"p","x":1.105,"y":0}
],
"dBox":[{"x":0,"x2":1.3,"y":0,"y2":22}],
"e":[
{"s":"C","x":5,"y":20},{"s":"C","x":10,"y":60},{"s":"C","x":31,"y":200},{"s":"C","x":68,"y":333},{"s":"C","x":110,"y":467},{"s":"C","x":172,"y":533},{"s":"C","x":261,"y":636},{"s":"C","x":355,"y":742},{"s":"C","x":511,"y":853},{"s":"C","x":694,"y":933},{"s":"C","x":918,"y":969},{"s":"C","x":1137,"y":978},{"s":"C","x":1320,"y":920},{"s":"C","x":1492,"y":853},{"s":"C","x":1648,"y":756},{"s":"C","x":1779,"y":667},{"s":"C","x":1873,"y":569},{"s":"C","x":1946,"y":498},{"s":"C","x":1982,"y":422},{"s":"C","x":1998,"y":378},{"s":"C","x":2014,"y":289},{"s":"C","x":2034,"y":244},{"s":"C","x":2076,"y":133},
{"s":"T","x":2,"y":15},{"s":"T","x":5,"y":60},{"s":"T","x":16,"y":120},{"s":"T","x":31,"y":209},{"s":"T","x":57,"y":333},{"s":"T","x":94,"y":467},{"s":"T","x":146,"y":600},{"s":"T","x":224,"y":733},{"s":"T","x":329,"y":902},{"s":"T","x":475,"y":1044},{"s":"T","x":683,"y":1222},{"s":"T","x":944,"y":1356},{"s":"T","x":1242,"y":1431},{"s":"T","x":1591,"y":1444},{"s":"T","x":1904,"y":1378},{"s":"T","x":2165,"y":1267},{"s":"T","x":2426,"y":1111},{"s":"T","x":2572,"y":956},{"s":"T","x":2676,"y":813},{"s":"T","x":2780,"y":680},{"s":"T","x":2858,"y":591},{"s":"T","x":2895,"y":489},{"s":"T","x":2916,"y":378},{"s":"T","x":2937,"y":289},{"s":"T","x":2952,"y":213},{"s":"T","x":2968,"y":147},{"s":"T","x":2979,"y":102},
{"s":"X","x":2,"y":15},{"s":"X","x":6,"y":50},{"s":"X","x":16,"y":133},{"s":"X","x":42,"y":289},{"s":"X","x":78,"y":422},{"s":"X","x":130,"y":533},{"s":"X","x":198,"y":667},{"s":"X","x":276,"y":800},{"s":"X","x":407,"y":947},{"s":"X","x":600,"y":1098},{"s":"X","x":809,"y":1231},{"s":"X","x":1069,"y":1347},{"s":"X","x":1372,"y":1391},{"s":"X","x":1659,"y":1391},{"s":"X","x":1946,"y":1342},{"s":"X","x":2207,"y":1231},{"s":"X","x":2389,"y":1111},{"s":"X","x":2572,"y":991},{"s":"X","x":2718,"y":876},{"s":"X","x":2843,"y":769},{"s":"X","x":2947,"y":658},{"s":"X","x":3031,"y":533},{"s":"X","x":3083,"y":444},{"s":"X","x":3135,"y":324},{"s":"X","x":3172,"y":244},{"s":"X","x":3198,"y":178},{"s":"X","x":3213,"y":133},{"s":"X","x":3224,"y":102}
],
"f":[
{"s":"X","x":0.02,"y":2.6e-7},{"s":"X","x":0.04,"y":3.9e-7},{"s":"X","x":0.06,"y":5.6e-7},{"s":"X","x":0.08,"y":7.6e-7},{"s":"X","x":0.1,"y":9.8e-7},{"s":"X","x":0.12,"y":1.3e-6},{"s":"X","x":0.14,"y":1.68e-6},{"s":"X","x":0.16,"y":2.1e-6},{"s":"X","x":0.18,"y":2.6e-6},{"s":"X","x":0.2,"y":3.3e-6},{"s":"X","x":0.22,"y":4.1e-6},{"s":"X","x":0.24,"y":4.9e-6},{"s":"X","x":0.26,"y":5.9e-6},{"s":"X","x":0.28,"y":7.0e-6},{"s":"X","x":0.3,"y":8.3e-6},{"s":"X","x":0.32,"y":9.55e-6},{"s":"X","x":0.34,"y":1.1e-5},{"s":"X","x":0.36,"y":1.26e-5},{"s":"X","x":0.38,"y":1.45e-5},{"s":"X","x":0.4,"y":1.67e-5},{"s":"X","x":0.42,"y":1.85e-5},{"s":"X","x":0.44,"y":2.05e-5},{"s":"X","x":0.46,"y":2.28e-5},{"s":"X","x":0.48,"y":2.53e-5},{"s":"X","x":0.5,"y":2.8e-5},{"s":"X","x":0.52,"y":2.98e-5},{"s":"X","x":0.54,"y":3.17e-5},{"s":"X","x":0.56,"y":3.36e-5},{"s":"X","x":0.58,"y":3.58e-5},{"s":"X","x":0.6,"y":3.8e-5},{"s":"X","x":0.62,"y":4.0e-5},{"s":"X","x":0.64,"y":4.21e-5},{"s":"X","x":0.66,"y":4.42e-5},{"s":"X","x":0.68,"y":4.65e-5},{"s":"X","x":0.7,"y":4.9e-5},{"s":"X","x":0.72,"y":5.07e-5},{"s":"X","x":0.74,"y":5.24e-5},{"s":"X","x":0.76,"y":5.42e-5},{"s":"X","x":0.78,"y":5.61e-5},{"s":"X","x":0.8,"y":5.8e-5},{"s":"X","x":0.82,"y":5.93e-5},{"s":"X","x":0.84,"y":6.06e-5},{"s":"X","x":0.86,"y":6.19e-5},{"s":"X","x":0.88,"y":6.32e-5},{"s":"X","x":0.9,"y":6.46e-5},{"s":"X","x":0.92,"y":6.6e-5},{"s":"X","x":0.94,"y":6.75e-5},{"s":"X","x":0.96,"y":6.89e-5},{"s":"X","x":0.98,"y":7.04e-5},{"s":"X","x":1,"y":7.2e-5},
{"s":"C","x":0.02,"y":2.09e-7},{"s":"C","x":0.04,"y":3.35e-7},{"s":"C","x":0.06,"y":4.6e-7},{"s":"C","x":0.08,"y":6.2e-7},{"s":"C","x":0.1,"y":7.7e-7},{"s":"C","x":0.12,"y":9.7e-7},{"s":"C","x":0.14,"y":1.26e-6},{"s":"C","x":0.16,"y":1.58e-6},{"s":"C","x":0.18,"y":1.96e-6},{"s":"C","x":0.2,"y":2.44e-6},{"s":"C","x":0.22,"y":3.0e-6},{"s":"C","x":0.24,"y":3.7e-6},{"s":"C","x":0.26,"y":4.4e-6},{"s":"C","x":0.28,"y":5.25e-6},{"s":"C","x":0.3,"y":6.3e-6},{"s":"C","x":0.32,"y":7.5e-6},{"s":"C","x":0.34,"y":8.9e-6},{"s":"C","x":0.36,"y":1.06e-5},{"s":"C","x":0.38,"y":1.26e-5},{"s":"C","x":0.4,"y":1.5e-5},{"s":"C","x":0.42,"y":1.7e-5},{"s":"C","x":0.44,"y":1.93e-5},{"s":"C","x":0.46,"y":2.18e-5},{"s":"C","x":0.48,"y":2.47e-5},{"s":"C","x":0.5,"y":2.8e-5},{"s":"C","x":0.52,"y":3.05e-5},{"s":"C","x":0.54,"y":3.33e-5},{"s":"C","x":0.56,"y":3.62e-5},{"s":"C","x":0.58,"y":3.95e-5},{"s":"C","x":0.6,"y":4.3e-5},{"s":"C","x":0.62,"y":4.57e-5},{"s":"C","x":0.64,"y":4.85e-5},{"s":"C","x":0.66,"y":5.15e-5},{"s":"C","x":0.68,"y":5.47e-5},{"s":"C","x":0.7,"y":5.8e-5},{"s":"C","x":0.72,"y":6.06e-5},{"s":"C","x":0.74,"y":6.32e-5},{"s":"C","x":0.76,"y":6.6e-5},{"s":"C","x":0.78,"y":6.9e-5},{"s":"C","x":0.8,"y":7.2e-5},{"s":"C","x":0.82,"y":7.45e-5},{"s":"C","x":0.84,"y":7.7e-5},{"s":"C","x":0.86,"y":7.96e-5},{"s":"C","x":0.88,"y":8.23e-5},{"s":"C","x":0.9,"y":8.5e-5},{"s":"C","x":0.92,"y":8.71e-5},{"s":"C","x":0.94,"y":8.92e-5},{"s":"C","x":0.96,"y":9.14e-5},{"s":"C","x":0.98,"y":9.37e-5},{"s":"C","x":1,"y":9.6e-5},
{"s":"T","x":0.02,"y":2.8e-7},{"s":"T","x":0.04,"y":4.1e-7},{"s":"T","x":0.06,"y":5.9e-7},{"s":"T","x":0.08,"y":8.1e-7},{"s":"T","x":0.1,"y":1.09e-6},{"s":"T","x":0.12,"y":1.42e-6},{"s":"T","x":0.14,"y":1.9e-6},{"s":"T","x":0.16,"y":2.4e-6},{"s":"T","x":0.18,"y":3.2e-6},{"s":"T","x":0.2,"y":4.1e-6},{"s":"T","x":0.22,"y":5.3e-6},{"s":"T","x":0.24,"y":6.6e-6},{"s":"T","x":0.26,"y":8.1e-6},{"s":"T","x":0.28,"y":1.0e-5},{"s":"T","x":0.3,"y":1.18e-5},{"s":"T","x":0.32,"y":1.38e-5},{"s":"T","x":0.34,"y":1.62e-5},{"s":"T","x":0.36,"y":1.9e-5},{"s":"T","x":0.38,"y":2.22e-5},{"s":"T","x":0.4,"y":2.6e-5},{"s":"T","x":0.42,"y":2.88e-5},{"s":"T","x":0.44,"y":3.18e-5},{"s":"T","x":0.46,"y":3.52e-5},{"s":"T","x":0.48,"y":3.89e-5},{"s":"T","x":0.5,"y":4.3e-5},{"s":"T","x":0.52,"y":4.57e-5},{"s":"T","x":0.54,"y":4.85e-5},{"s":"T","x":0.56,"y":5.15e-5},{"s":"T","x":0.58,"y":5.47e-5},{"s":"T","x":0.6,"y":5.8e-5},{"s":"T","x":0.62,"y":6.06e-5},{"s":"T","x":0.64,"y":6.32e-5},{"s":"T","x":0.66,"y":6.6e-5},{"s":"T","x":0.68,"y":6.9e-5},{"s":"T","x":0.7,"y":7.2e-5},{"s":"T","x":0.72,"y":7.43e-5},{"s":"T","x":0.74,"y":7.66e-5},{"s":"T","x":0.76,"y":7.9e-5},{"s":"T","x":0.78,"y":8.15e-5},{"s":"T","x":0.8,"y":8.4e-5},{"s":"T","x":0.82,"y":8.67e-5},{"s":"T","x":0.84,"y":8.94e-5},{"s":"T","x":0.86,"y":9.23e-5},{"s":"T","x":0.88,"y":9.52e-5},{"s":"T","x":0.9,"y":9.83e-5},{"s":"T","x":0.92,"y":1.01e-4},{"s":"T","x":0.94,"y":1.05e-4},{"s":"T","x":0.96,"y":1.08e-4},{"s":"T","x":0.98,"y":1.11e-4},{"s":"T","x":1,"y":1.15e-4}
],
"fFit":[
{"g":"o1","k":"o","x":0.02,"y":2.75e-7},{"g":"o1","k":"o","x":0.126,"y":1.0e-6},
{"g":"o2","k":"o","x":0.02,"y":2.55e-7},{"g":"o2","k":"o","x":0.112,"y":9.3e-7},
{"g":"o3","k":"o","x":0.02,"y":2.0e-7},{"g":"o3","k":"o","x":0.146,"y":8.7e-7},
{"g":"t1","k":"t","x":0.146,"y":8.7e-7},{"g":"t1","k":"t","x":0.42,"y":1.6e-5},
{"g":"t2","k":"t","x":0.126,"y":1.0e-6},{"g":"t2","k":"t","x":0.53,"y":5.9e-5},
{"g":"t3","k":"t","x":0.112,"y":9.3e-7},{"g":"t3","k":"t","x":0.45,"y":2.0e-5},
{"g":"c1","k":"c","x":0.42,"y":1.6e-5},{"g":"c1","k":"c","x":1,"y":9.6e-5},
{"g":"c2","k":"c","x":0.53,"y":5.9e-5},{"g":"c2","k":"c","x":1,"y":1.15e-4},
{"g":"c3","k":"c","x":0.45,"y":2.0e-5},{"g":"c3","k":"c","x":1,"y":7.2e-5},
{"g":"L1","k":"o","x":0.21,"y":1.86e-7},{"g":"L1","k":"o","x":0.33,"y":1.86e-7},
{"g":"L2","k":"t","x":0.33,"y":1.86e-7},{"g":"L2","k":"t","x":0.53,"y":1.86e-7},
{"g":"L3","k":"c","x":0.53,"y":1.86e-7},{"g":"L3","k":"c","x":0.83,"y":1.86e-7}
],
"fDash":[
{"g":"a","x":0.112,"y":1e-7},{"g":"a","x":0.112,"y":9.3e-7},
{"g":"b","x":0.126,"y":1e-7},{"g":"b","x":0.126,"y":1.0e-6},
{"g":"c","x":0.146,"y":1e-7},{"g":"c","x":0.146,"y":8.7e-7}
],
"fTxt":[
{"c":"C","x":0.0242,"y":9.1e-6,"v":"= 0.146 V"},{"c":"T","x":0.0242,"y":4.3e-6,"v":"= 0.126 V"},{"c":"X","x":0.0242,"y":1.93e-6,"v":"= 0.112 V"}
],
"fLab":[
{"t":"Ohmic","x":0.255,"y":2.45e-7},{"t":"TFL","x":0.376,"y":2.45e-7},{"t":"Child","x":0.66,"y":2.45e-7}
]
},
"resolve":{"scale":{"x":"independent","y":"independent","color":"independent","fill":"independent","stroke":"independent"},"legend":{"color":"independent"}},
"spacing":2,
"vconcat":[
{"hconcat":[
{"width":245,"height":181,"title":{"text":"(a)","dx":-26},
"encoding":{
"x":{"field":"x","type":"quantitative","scale":{"domain":[10,50],"nice":false,"zero":false},"axis":{"title":"2θ (degree)","values":[10,15,20,25,30,35,40,45,50],"labelExpr":"datum.value % 10 == 0 ? datum.label : ''","tickSize":{"condition":{"test":"datum.value % 10 == 0","value":-4},"value":-2}}},
"y":{"field":"y","type":"quantitative","scale":{"domain":[0,100],"nice":false},"axis":{"title":"Intensity (a.u.)","labels":false,"ticks":false,"titlePadding":7}}},
"layer":[
{"data":{"name":"a"},"mark":{"type":"line","strokeWidth":1.1},"encoding":{"color":{"field":"s","type":"nominal","scale":{"domain":["X","T","C","I"],"range":["#0000ff","#ff0000","#000000","#ff00ff"]},"legend":null}}},
{"data":{"name":"aPk"},"mark":{"type":"text","fontSize":8,"fontWeight":"bold","color":"black"},"encoding":{"text":{"field":"t"}}},
{"data":{"name":"aSer"},"mark":{"type":"text","fontSize":10.5,"fontWeight":"bold","color":"black","align":"right"},"encoding":{"text":{"field":"t"}}}
]},
{"width":223,"height":181,"title":{"text":"(b)","dx":-35},
"encoding":{
"x":{"field":"x","type":"quantitative","scale":{"domain":[625,900],"nice":false,"zero":false},"axis":{"title":"Wavelength (nm)","values":[650,675,700,725,750,775,800,825,850,875,900],"labelExpr":"datum.value % 50 == 0 ? datum.label : ''","tickSize":{"condition":{"test":"datum.value % 50 == 0","value":-4},"value":-2}}},
"y":{"field":"y","type":"quantitative","scale":{"domain":[0,1],"nice":false},"axis":{"title":"PL intensity (a.u.)","labels":false,"ticks":false,"titlePadding":8}}},
"layer":[
{"data":{"name":"b"},"mark":{"type":"line","strokeWidth":1.4},"encoding":{"color":{"field":"s","type":"nominal","scale":{"domain":["G","C","T","X"],"range":["#ff00ff","#000000","#ff0000","#0000ff"]},"legend":{"title":null,"legendX":128,"legendY":5,"symbolType":"M-2.8,0H2.8","symbolSize":64,"symbolStrokeWidth":1.5,"labelOffset":10,"rowPadding":0,"labelFontSize":9.7,"labelExpr":"datum.label=='G'?'Glass/PVK':datum.label=='C'?'2BrCzPA/PVK':datum.label=='T'?'2BrPTZPA/PVK':'2BrPXZPA/PVK'"}}}}
]},
{"width":223,"height":181,"title":{"text":"(c)","dx":-44},
"encoding":{
"x":{"field":"x","type":"quantitative","scale":{"domain":[0,900],"nice":false},"axis":{"title":"Lifetime (ns)","values":[0,100,200,300,400,500,600,700,800,900],"labelExpr":"datum.value % 200 == 0 ? datum.label : ''","tickSize":{"condition":{"test":"datum.value % 200 == 0","value":-4},"value":-2}}},
"y":{"field":"y","type":"quantitative","scale":{"domain":[0,1],"nice":false},"axis":{"title":"Normalized Intensity (a.u.)","labels":false,"ticks":false,"titlePadding":7}}},
"layer":[
{"data":{"name":"c"},"mark":{"type":"point","filled":true,"size":11,"opacity":1,"clip":true},"encoding":{"color":{"field":"s","type":"nominal","scale":{"domain":["G","C","T","X"],"range":["#ff00ff","#000000","#ff0000","#0000ff"]},"legend":{"title":null,"legendX":128,"legendY":4,"symbolType":"circle","symbolSize":30,"labelOffset":11,"rowPadding":2,"labelFontSize":10,"labelExpr":"datum.label=='G'?'Glass/PVK':datum.label=='C'?'2BrCzPA/PVK':datum.label=='T'?'2BrPTZPA/PVK':'2BrPXZPA/PVK'"}}}}
]}
],"spacing":45,"bounds":"flush","resolve":{"scale":{"x":"independent","y":"independent","color":"independent","fill":"independent","stroke":"independent"},"legend":{"color":"independent"}}},
{"hconcat":[
{"width":241,"height":181,"title":{"text":"(d)","dx":-27},"view":{"stroke":null},
"encoding":{
"x":{"field":"x","type":"quantitative","scale":{"domain":[-0.1049,1.3],"nice":false,"zero":false},"axis":{"title":"Voltage (V)","titleX":129.5,"titlePadding":3,"domain":false,"values":[0,0.1,0.2,0.3,0.4,0.5,0.6,0.7,0.8,0.9,1.0,1.1,1.2,1.3],"format":".1f","labelExpr":"round(datum.value*10) % 2 == 0 && datum.value < 1.25 ? datum.label : ''","tickSize":{"condition":{"test":"round(datum.value*10) % 2 == 0","value":-4},"value":-2}}},
"y":{"field":"y","type":"quantitative","scale":{"domain":[0,22],"nice":false},"axis":{"title":"1/C² (PF⁻²)","offset":-18,"values":[0,2.5,5,7.5,10,12.5,15,17.5,20],"labelExpr":"datum.value % 5 == 0 ? datum.label : ''","tickSize":{"condition":{"test":"datum.value % 5 == 0","value":-4},"value":-2},"titlePadding":2}}},
"layer":[
{"data":{"name":"dBox"},"mark":{"type":"rect","fillOpacity":0,"stroke":"black","strokeWidth":1},"encoding":{"x2":{"field":"x2"},"y2":{"field":"y2"}}},
{"data":{"name":"d"},"mark":{"type":"point","filled":true,"size":22,"opacity":1},"encoding":{"color":{"field":"s","type":"nominal","scale":{"domain":["C","T","X"],"range":["#000000","#ff0000","#0000ff"]},"legend":{"title":null,"legendX":171,"legendY":4,"symbolType":"circle","symbolSize":30,"labelOffset":9,"rowPadding":2,"labelFontSize":10.5,"labelExpr":"datum.label=='C'?'2BrCzPA':datum.label=='T'?'2BrPTZPA':'2BrPXZPA'"}}}},
{"data":{"name":"dFit"},"mark":{"type":"line","color":"#444444","strokeWidth":0.8},"encoding":{"detail":{"field":"g"}}}
]},
{"width":226,"height":181,"title":{"text":"(e)","dx":-33},
"encoding":{
"x":{"field":"x","type":"quantitative","scale":{"domain":[0,3500],"nice":false},"axis":{"title":"Z′ (Ω)","titlePadding":3,"values":[0,500,1000,1500,2000,2500,3000,3500],"format":"d","labelExpr":"datum.value % 1000 == 0 ? datum.label : ''","tickSize":{"condition":{"test":"datum.value % 1000 == 0","value":-4},"value":-2}}},
"y":{"field":"y","type":"quantitative","scale":{"domain":[0,2400],"nice":false},"axis":{"title":"Z″ (Ω)","values":[0,250,500,750,1000,1250,1500,1750,2000,2250],"format":"d","labelExpr":"datum.value % 500 == 0 ? datum.label : ''","tickSize":{"condition":{"test":"datum.value % 500 == 0","value":-4},"value":-2},"titlePadding":2}}},
"layer":[
{"data":{"name":"e"},"mark":{"type":"line","strokeWidth":1,"point":{"filled":true,"size":18}},"encoding":{"color":{"field":"s","type":"nominal","scale":{"domain":["C","T","X"],"range":["#000000","#ff0000","#0000ff"]},"legend":{"title":null,"legendX":152,"legendY":3,"symbolType":"M-2.5,0H2.5M-0.8,0A0.8,0.8,0,1,0,0.8,0A0.8,0.8,0,1,0,-0.8,0","symbolSize":64,"symbolStrokeWidth":1,"labelOffset":10,"rowPadding":2,"labelFontSize":10.5,"labelExpr":"datum.label=='C'?'2BrCzPA':datum.label=='T'?'2BrPTZPA':'2BrPXZPA'"}}}}
]},
{"width":221,"height":181,"title":{"text":"(f)","dx":-47},
"encoding":{
"x":{"field":"x","type":"quantitative","scale":{"type":"log","domain":[0.02,1],"nice":false},"axis":{"title":"Voltage (V)","titlePadding":3,"values":[0.02,0.03,0.04,0.05,0.06,0.07,0.08,0.09,0.1,0.2,0.3,0.4,0.5,0.6,0.7,0.8,0.9,1],"labelExpr":"datum.value == 0.1 ? '0.1' : datum.value == 1 ? '1' : ''","tickSize":{"condition":{"test":"datum.value == 0.1 || datum.value == 1","value":-4},"value":-2}}},
"y":{"field":"y","type":"quantitative","scale":{"type":"log","domain":[1e-7,3e-4],"nice":false},"axis":{"title":"Current (A)","values":[1e-7,1e-6,1e-5,1e-4],"labelExpr":"'10' + (datum.value < 5e-7 ? '⁻⁷' : datum.value < 5e-6 ? '⁻⁶' : datum.value < 5e-5 ? '⁻⁵' : '⁻⁴')","titlePadding":3}}},
"layer":[
{"data":{"name":"fDash"},"mark":{"type":"line","color":"black","strokeWidth":1,"strokeDash":[2,2]},"encoding":{"detail":{"field":"g"}}},
{"data":{"name":"f"},"mark":{"type":"point","filled":true,"size":34,"opacity":1,"clip":true},"encoding":{"color":{"field":"s","type":"nominal","scale":{"domain":["C","T","X"],"range":["#000000","#ff0000","#0000ff"]},"legend":{"title":null,"legendX":8,"legendY":3,"symbolType":"circle","symbolSize":34,"labelOffset":11,"rowPadding":1.5,"labelFontSize":10.5,"labelExpr":"datum.label=='C'?'2BrCzPA':datum.label=='T'?'2BrPTZPA':'2BrPXZPA'"}}}},
{"data":{"name":"fFit"},"mark":{"type":"line","strokeWidth":1.4},"encoding":{"detail":{"field":"g"},"stroke":{"field":"k","type":"nominal","scale":{"domain":["o","t","c"],"range":["#ff33ff","#2e9e2e","#8a8a6a"]},"legend":null}}},
{"data":{"name":"fLab"},"mark":{"type":"text","fontSize":7,"fontWeight":"bold","color":"#333333"},"encoding":{"text":{"field":"t"}}},
{"data":{"name":"fTxt"},"mark":{"type":"text","fontSize":12,"fontWeight":"bold","align":"left"},"encoding":{"text":{"value":"V"},"fill":{"field":"c","type":"nominal","scale":{"domain":["C","T","X"],"range":["#000000","#ff0000","#0000ff"]},"legend":null}}},
{"data":{"name":"fTxt"},"mark":{"type":"text","fontSize":8,"fontWeight":"bold","align":"left","dx":8,"dy":3.5},"encoding":{"text":{"value":"TFL"},"fill":{"field":"c","type":"nominal","scale":{"domain":["C","T","X"],"range":["#000000","#ff0000","#0000ff"]},"legend":null}}},
{"data":{"name":"fTxt"},"mark":{"type":"text","fontSize":12,"fontWeight":"bold","align":"left","dx":26},"encoding":{"text":{"field":"v"},"fill":{"field":"c","type":"nominal","scale":{"domain":["C","T","X"],"range":["#000000","#ff0000","#0000ff"]},"legend":null}}}
]}
],"spacing":47,"bounds":"flush","resolve":{"scale":{"x":"independent","y":"independent","color":"independent","fill":"independent","stroke":"independent"},"legend":{"color":"independent"}}}
]
}
